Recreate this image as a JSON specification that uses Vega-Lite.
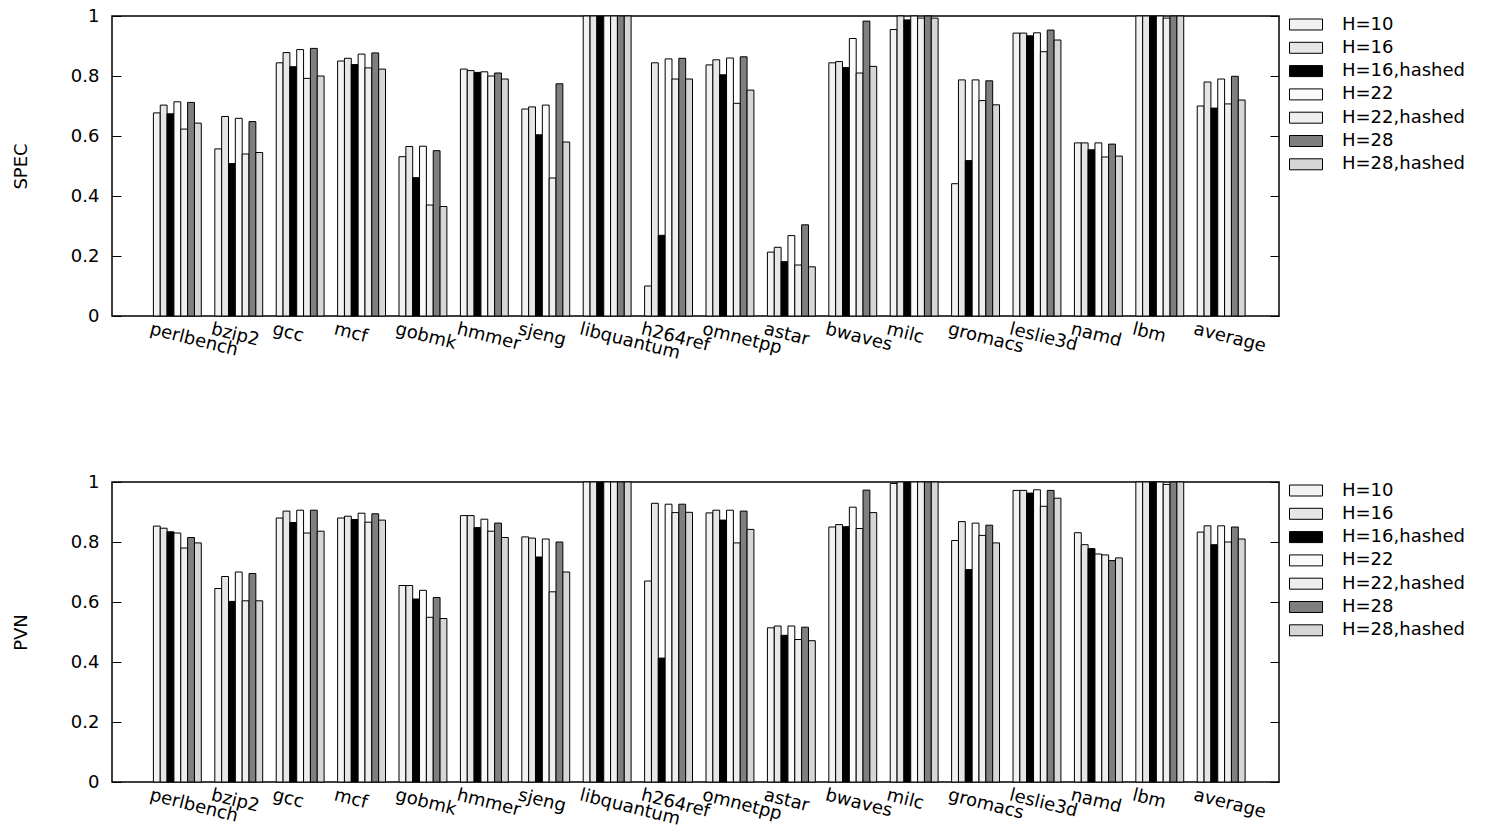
{
"$schema": "https://vega.github.io/schema/vega-lite/v6.json",
"padding": {"left": 11, "top": 6, "right": 0, "bottom": 0},
"bounds": "flush",
"spacing": 166,
"config": {"view": {"stroke": "black", "strokeWidth": 1.5}, "font": "DejaVu Sans", "axis": {"labelColor": "black", "titleColor": "black", "tickColor": "black"}},
"datasets": {
"spec": [
{"b":"perlbench","s":"H=10","v":0.677},{"b":"perlbench","s":"H=16","v":0.703},{"b":"perlbench","s":"H=16,hashed","v":0.674},{"b":"perlbench","s":"H=22","v":0.714},{"b":"perlbench","s":"H=22,hashed","v":0.623},{"b":"perlbench","s":"H=28","v":0.712},{"b":"perlbench","s":"H=28,hashed","v":0.643},
{"b":"bzip2","s":"H=10","v":0.557},{"b":"bzip2","s":"H=16","v":0.665},{"b":"bzip2","s":"H=16,hashed","v":0.508},{"b":"bzip2","s":"H=22","v":0.659},{"b":"bzip2","s":"H=22,hashed","v":0.54},{"b":"bzip2","s":"H=28","v":0.648},{"b":"bzip2","s":"H=28,hashed","v":0.545},
{"b":"gcc","s":"H=10","v":0.844},{"b":"gcc","s":"H=16","v":0.878},{"b":"gcc","s":"H=16,hashed","v":0.831},{"b":"gcc","s":"H=22","v":0.888},{"b":"gcc","s":"H=22,hashed","v":0.792},{"b":"gcc","s":"H=28","v":0.892},{"b":"gcc","s":"H=28,hashed","v":0.8},
{"b":"mcf","s":"H=10","v":0.85},{"b":"mcf","s":"H=16","v":0.859},{"b":"mcf","s":"H=16,hashed","v":0.838},{"b":"mcf","s":"H=22","v":0.873},{"b":"mcf","s":"H=22,hashed","v":0.827},{"b":"mcf","s":"H=28","v":0.877},{"b":"mcf","s":"H=28,hashed","v":0.823},
{"b":"gobmk","s":"H=10","v":0.531},{"b":"gobmk","s":"H=16","v":0.565},{"b":"gobmk","s":"H=16,hashed","v":0.461},{"b":"gobmk","s":"H=22","v":0.566},{"b":"gobmk","s":"H=22,hashed","v":0.37},{"b":"gobmk","s":"H=28","v":0.551},{"b":"gobmk","s":"H=28,hashed","v":0.365},
{"b":"hmmer","s":"H=10","v":0.823},{"b":"hmmer","s":"H=16","v":0.818},{"b":"hmmer","s":"H=16,hashed","v":0.812},{"b":"hmmer","s":"H=22","v":0.814},{"b":"hmmer","s":"H=22,hashed","v":0.8},{"b":"hmmer","s":"H=28","v":0.81},{"b":"hmmer","s":"H=28,hashed","v":0.79},
{"b":"sjeng","s":"H=10","v":0.69},{"b":"sjeng","s":"H=16","v":0.697},{"b":"sjeng","s":"H=16,hashed","v":0.604},{"b":"sjeng","s":"H=22","v":0.703},{"b":"sjeng","s":"H=22,hashed","v":0.46},{"b":"sjeng","s":"H=28","v":0.774},{"b":"sjeng","s":"H=28,hashed","v":0.58},
{"b":"libquantum","s":"H=10","v":1},{"b":"libquantum","s":"H=16","v":1},{"b":"libquantum","s":"H=16,hashed","v":1},{"b":"libquantum","s":"H=22","v":1},{"b":"libquantum","s":"H=22,hashed","v":1},{"b":"libquantum","s":"H=28","v":1},{"b":"libquantum","s":"H=28,hashed","v":1},
{"b":"h264ref","s":"H=10","v":0.1},{"b":"h264ref","s":"H=16","v":0.844},{"b":"h264ref","s":"H=16,hashed","v":0.269},{"b":"h264ref","s":"H=22","v":0.857},{"b":"h264ref","s":"H=22,hashed","v":0.79},{"b":"h264ref","s":"H=28","v":0.859},{"b":"h264ref","s":"H=28,hashed","v":0.79},
{"b":"omnetpp","s":"H=10","v":0.837},{"b":"omnetpp","s":"H=16","v":0.854},{"b":"omnetpp","s":"H=16,hashed","v":0.804},{"b":"omnetpp","s":"H=22","v":0.86},{"b":"omnetpp","s":"H=22,hashed","v":0.709},{"b":"omnetpp","s":"H=28","v":0.864},{"b":"omnetpp","s":"H=28,hashed","v":0.753},
{"b":"astar","s":"H=10","v":0.213},{"b":"astar","s":"H=16","v":0.229},{"b":"astar","s":"H=16,hashed","v":0.181},{"b":"astar","s":"H=22","v":0.268},{"b":"astar","s":"H=22,hashed","v":0.17},{"b":"astar","s":"H=28","v":0.304},{"b":"astar","s":"H=28,hashed","v":0.164},
{"b":"bwaves","s":"H=10","v":0.844},{"b":"bwaves","s":"H=16","v":0.848},{"b":"bwaves","s":"H=16,hashed","v":0.828},{"b":"bwaves","s":"H=22","v":0.925},{"b":"bwaves","s":"H=22,hashed","v":0.81},{"b":"bwaves","s":"H=28","v":0.983},{"b":"bwaves","s":"H=28,hashed","v":0.832},
{"b":"milc","s":"H=10","v":0.955},{"b":"milc","s":"H=16","v":1},{"b":"milc","s":"H=16,hashed","v":0.987},{"b":"milc","s":"H=22","v":1},{"b":"milc","s":"H=22,hashed","v":0.993},{"b":"milc","s":"H=28","v":1},{"b":"milc","s":"H=28,hashed","v":0.993},
{"b":"gromacs","s":"H=10","v":0.441},{"b":"gromacs","s":"H=16","v":0.787},{"b":"gromacs","s":"H=16,hashed","v":0.518},{"b":"gromacs","s":"H=22","v":0.787},{"b":"gromacs","s":"H=22,hashed","v":0.718},{"b":"gromacs","s":"H=28","v":0.784},{"b":"gromacs","s":"H=28,hashed","v":0.704},
{"b":"leslie3d","s":"H=10","v":0.943},{"b":"leslie3d","s":"H=16","v":0.943},{"b":"leslie3d","s":"H=16,hashed","v":0.934},{"b":"leslie3d","s":"H=22","v":0.944},{"b":"leslie3d","s":"H=22,hashed","v":0.881},{"b":"leslie3d","s":"H=28","v":0.953},{"b":"leslie3d","s":"H=28,hashed","v":0.92},
{"b":"namd","s":"H=10","v":0.577},{"b":"namd","s":"H=16","v":0.577},{"b":"namd","s":"H=16,hashed","v":0.554},{"b":"namd","s":"H=22","v":0.577},{"b":"namd","s":"H=22,hashed","v":0.53},{"b":"namd","s":"H=28","v":0.573},{"b":"namd","s":"H=28,hashed","v":0.533},
{"b":"lbm","s":"H=10","v":1},{"b":"lbm","s":"H=16","v":1},{"b":"lbm","s":"H=16,hashed","v":1},{"b":"lbm","s":"H=22","v":1},{"b":"lbm","s":"H=22,hashed","v":0.993},{"b":"lbm","s":"H=28","v":1},{"b":"lbm","s":"H=28,hashed","v":1},
{"b":"average","s":"H=10","v":0.7},{"b":"average","s":"H=16","v":0.78},{"b":"average","s":"H=16,hashed","v":0.693},{"b":"average","s":"H=22","v":0.79},{"b":"average","s":"H=22,hashed","v":0.707},{"b":"average","s":"H=28","v":0.799},{"b":"average","s":"H=28,hashed","v":0.72}
],
"pvn": [
{"b":"perlbench","s":"H=10","v":0.853},{"b":"perlbench","s":"H=16","v":0.846},{"b":"perlbench","s":"H=16,hashed","v":0.834},{"b":"perlbench","s":"H=22","v":0.83},{"b":"perlbench","s":"H=22,hashed","v":0.78},{"b":"perlbench","s":"H=28","v":0.815},{"b":"perlbench","s":"H=28,hashed","v":0.797},
{"b":"bzip2","s":"H=10","v":0.645},{"b":"bzip2","s":"H=16","v":0.685},{"b":"bzip2","s":"H=16,hashed","v":0.602},{"b":"bzip2","s":"H=22","v":0.7},{"b":"bzip2","s":"H=22,hashed","v":0.604},{"b":"bzip2","s":"H=28","v":0.695},{"b":"bzip2","s":"H=28,hashed","v":0.604},
{"b":"gcc","s":"H=10","v":0.88},{"b":"gcc","s":"H=16","v":0.903},{"b":"gcc","s":"H=16,hashed","v":0.865},{"b":"gcc","s":"H=22","v":0.906},{"b":"gcc","s":"H=22,hashed","v":0.83},{"b":"gcc","s":"H=28","v":0.906},{"b":"gcc","s":"H=28,hashed","v":0.836},
{"b":"mcf","s":"H=10","v":0.88},{"b":"mcf","s":"H=16","v":0.886},{"b":"mcf","s":"H=16,hashed","v":0.875},{"b":"mcf","s":"H=22","v":0.896},{"b":"mcf","s":"H=22,hashed","v":0.866},{"b":"mcf","s":"H=28","v":0.894},{"b":"mcf","s":"H=28,hashed","v":0.873},
{"b":"gobmk","s":"H=10","v":0.655},{"b":"gobmk","s":"H=16","v":0.655},{"b":"gobmk","s":"H=16,hashed","v":0.61},{"b":"gobmk","s":"H=22","v":0.639},{"b":"gobmk","s":"H=22,hashed","v":0.549},{"b":"gobmk","s":"H=28","v":0.615},{"b":"gobmk","s":"H=28,hashed","v":0.545},
{"b":"hmmer","s":"H=10","v":0.888},{"b":"hmmer","s":"H=16","v":0.888},{"b":"hmmer","s":"H=16,hashed","v":0.848},{"b":"hmmer","s":"H=22","v":0.876},{"b":"hmmer","s":"H=22,hashed","v":0.836},{"b":"hmmer","s":"H=28","v":0.863},{"b":"hmmer","s":"H=28,hashed","v":0.815},
{"b":"sjeng","s":"H=10","v":0.817},{"b":"sjeng","s":"H=16","v":0.813},{"b":"sjeng","s":"H=16,hashed","v":0.75},{"b":"sjeng","s":"H=22","v":0.81},{"b":"sjeng","s":"H=22,hashed","v":0.634},{"b":"sjeng","s":"H=28","v":0.8},{"b":"sjeng","s":"H=28,hashed","v":0.7},
{"b":"libquantum","s":"H=10","v":1},{"b":"libquantum","s":"H=16","v":1},{"b":"libquantum","s":"H=16,hashed","v":1},{"b":"libquantum","s":"H=22","v":1},{"b":"libquantum","s":"H=22,hashed","v":1},{"b":"libquantum","s":"H=28","v":1},{"b":"libquantum","s":"H=28,hashed","v":1},
{"b":"h264ref","s":"H=10","v":0.67},{"b":"h264ref","s":"H=16","v":0.929},{"b":"h264ref","s":"H=16,hashed","v":0.413},{"b":"h264ref","s":"H=22","v":0.926},{"b":"h264ref","s":"H=22,hashed","v":0.898},{"b":"h264ref","s":"H=28","v":0.926},{"b":"h264ref","s":"H=28,hashed","v":0.899},
{"b":"omnetpp","s":"H=10","v":0.897},{"b":"omnetpp","s":"H=16","v":0.906},{"b":"omnetpp","s":"H=16,hashed","v":0.873},{"b":"omnetpp","s":"H=22","v":0.906},{"b":"omnetpp","s":"H=22,hashed","v":0.797},{"b":"omnetpp","s":"H=28","v":0.903},{"b":"omnetpp","s":"H=28,hashed","v":0.842},
{"b":"astar","s":"H=10","v":0.514},{"b":"astar","s":"H=16","v":0.52},{"b":"astar","s":"H=16,hashed","v":0.489},{"b":"astar","s":"H=22","v":0.52},{"b":"astar","s":"H=22,hashed","v":0.475},{"b":"astar","s":"H=28","v":0.516},{"b":"astar","s":"H=28,hashed","v":0.471},
{"b":"bwaves","s":"H=10","v":0.85},{"b":"bwaves","s":"H=16","v":0.858},{"b":"bwaves","s":"H=16,hashed","v":0.851},{"b":"bwaves","s":"H=22","v":0.916},{"b":"bwaves","s":"H=22,hashed","v":0.845},{"b":"bwaves","s":"H=28","v":0.973},{"b":"bwaves","s":"H=28,hashed","v":0.898},
{"b":"milc","s":"H=10","v":0.995},{"b":"milc","s":"H=16","v":1},{"b":"milc","s":"H=16,hashed","v":1},{"b":"milc","s":"H=22","v":1},{"b":"milc","s":"H=22,hashed","v":1},{"b":"milc","s":"H=28","v":1},{"b":"milc","s":"H=28,hashed","v":1},
{"b":"gromacs","s":"H=10","v":0.805},{"b":"gromacs","s":"H=16","v":0.868},{"b":"gromacs","s":"H=16,hashed","v":0.708},{"b":"gromacs","s":"H=22","v":0.863},{"b":"gromacs","s":"H=22,hashed","v":0.822},{"b":"gromacs","s":"H=28","v":0.856},{"b":"gromacs","s":"H=28,hashed","v":0.797},
{"b":"leslie3d","s":"H=10","v":0.972},{"b":"leslie3d","s":"H=16","v":0.972},{"b":"leslie3d","s":"H=16,hashed","v":0.963},{"b":"leslie3d","s":"H=22","v":0.974},{"b":"leslie3d","s":"H=22,hashed","v":0.919},{"b":"leslie3d","s":"H=28","v":0.972},{"b":"leslie3d","s":"H=28,hashed","v":0.946},
{"b":"namd","s":"H=10","v":0.831},{"b":"namd","s":"H=16","v":0.791},{"b":"namd","s":"H=16,hashed","v":0.778},{"b":"namd","s":"H=22","v":0.76},{"b":"namd","s":"H=22,hashed","v":0.757},{"b":"namd","s":"H=28","v":0.738},{"b":"namd","s":"H=28,hashed","v":0.747},
{"b":"lbm","s":"H=10","v":1},{"b":"lbm","s":"H=16","v":1},{"b":"lbm","s":"H=16,hashed","v":1},{"b":"lbm","s":"H=22","v":1},{"b":"lbm","s":"H=22,hashed","v":0.992},{"b":"lbm","s":"H=28","v":1},{"b":"lbm","s":"H=28,hashed","v":1},
{"b":"average","s":"H=10","v":0.833},{"b":"average","s":"H=16","v":0.854},{"b":"average","s":"H=16,hashed","v":0.791},{"b":"average","s":"H=22","v":0.854},{"b":"average","s":"H=22,hashed","v":0.8},{"b":"average","s":"H=28","v":0.85},{"b":"average","s":"H=28,hashed","v":0.81}
]
},
"resolve": {"legend": {"fill": "independent"}},
"vconcat": [
{
"width": 1167, "height": 300,
"data": {"name": "spec"},
"layer": [
{"mark": {"type": "bar", "stroke": "black", "strokeWidth": 1},
"encoding": {
"x": {"field": "b", "type": "nominal", "sort": null, "scale": {"paddingInner": 0.22, "paddingOuter": 0.613, "align": 0.55},
"axis": {"title": null, "labelAngle": 14, "labelAlign": "left", "labelBaseline": "top", "labelOffset": -25, "labelPadding": 4, "ticks": false, "domain": false, "labelFontSize": 18, "labelFont": "DejaVu Sans"}},
"xOffset": {"field": "s", "type": "nominal", "scale": {"domain": ["H=10","H=16","H=16,hashed","H=22","H=22,hashed","H=28","H=28,hashed"], "paddingInner": 0, "paddingOuter": 0}},
"y": {"field": "v", "type": "quantitative", "stack": null, "scale": {"domain": [0, 1], "nice": false},
"axis": {"values": [0, 0.2, 0.4, 0.6, 0.8, 1], "format": ".1~f", "tickSize": -9, "labelPadding": 22, "domain": false, "grid": false, "title": "SPEC", "titleFontWeight": "normal", "titleFontSize": 18, "titleFont": "DejaVu Sans", "titlePadding": 40, "labelFontSize": 18, "labelFont": "DejaVu Sans"}},
"fill": {"field": "s", "type": "nominal",
"scale": {"domain": ["H=10","H=16","H=16,hashed","H=22","H=22,hashed","H=28","H=28,hashed"], "range": ["#f2f2f2","#e6e6e6","#000000","#fafafa","#eeeeee","#7f7f7f","#d6d6d6"]},
"legend": {"title": null, "orient": "none", "legendX": 1185, "legendY": -0.5, "symbolType": "M-3,-1H3V1H-3Z", "symbolSize": 121, "symbolStrokeColor": "black", "symbolStrokeWidth": 1, "labelFontSize": 18, "labelFont": "DejaVu Sans", "labelColor": "black", "labelOffset": 27, "rowPadding": 5.3}}
}},
{"mark": {"type": "rule", "strokeOpacity": 0},
"encoding": {"y": {"field": "v", "type": "quantitative", "axis": {"orient": "right", "values": [0, 0.2, 0.4, 0.6, 0.8, 1], "labels": false, "tickSize": -9, "domain": false, "grid": false, "title": null}}}}
],
"resolve": {"axis": {"y": "independent"}}
},
{
"width": 1167, "height": 300,
"data": {"name": "pvn"},
"layer": [
{"mark": {"type": "bar", "stroke": "black", "strokeWidth": 1},
"encoding": {
"x": {"field": "b", "type": "nominal", "sort": null, "scale": {"paddingInner": 0.22, "paddingOuter": 0.613, "align": 0.55},
"axis": {"title": null, "labelAngle": 14, "labelAlign": "left", "labelBaseline": "top", "labelOffset": -25, "labelPadding": 4, "ticks": false, "domain": false, "labelFontSize": 18, "labelFont": "DejaVu Sans"}},
"xOffset": {"field": "s", "type": "nominal", "scale": {"domain": ["H=10","H=16","H=16,hashed","H=22","H=22,hashed","H=28","H=28,hashed"], "paddingInner": 0, "paddingOuter": 0}},
"y": {"field": "v", "type": "quantitative", "stack": null, "scale": {"domain": [0, 1], "nice": false},
"axis": {"values": [0, 0.2, 0.4, 0.6, 0.8, 1], "format": ".1~f", "tickSize": -9, "labelPadding": 22, "domain": false, "grid": false, "title": "PVN", "titleFontWeight": "normal", "titleFontSize": 18, "titleFont": "DejaVu Sans", "titlePadding": 40, "labelFontSize": 18, "labelFont": "DejaVu Sans"}},
"fill": {"field": "s", "type": "nominal",
"scale": {"domain": ["H=10","H=16","H=16,hashed","H=22","H=22,hashed","H=28","H=28,hashed"], "range": ["#f2f2f2","#e6e6e6","#000000","#fafafa","#eeeeee","#7f7f7f","#d6d6d6"]},
"legend": {"title": null, "orient": "none", "legendX": 1185, "legendY": -0.5, "symbolType": "M-3,-1H3V1H-3Z", "symbolSize": 121, "symbolStrokeColor": "black", "symbolStrokeWidth": 1, "labelFontSize": 18, "labelFont": "DejaVu Sans", "labelColor": "black", "labelOffset": 27, "rowPadding": 5.3}}
}},
{"mark": {"type": "rule", "strokeOpacity": 0},
"encoding": {"y": {"field": "v", "type": "quantitative", "axis": {"orient": "right", "values": [0, 0.2, 0.4, 0.6, 0.8, 1], "labels": false, "tickSize": -9, "domain": false, "grid": false, "title": null}}}}
],
"resolve": {"axis": {"y": "independent"}}
}
]
}
